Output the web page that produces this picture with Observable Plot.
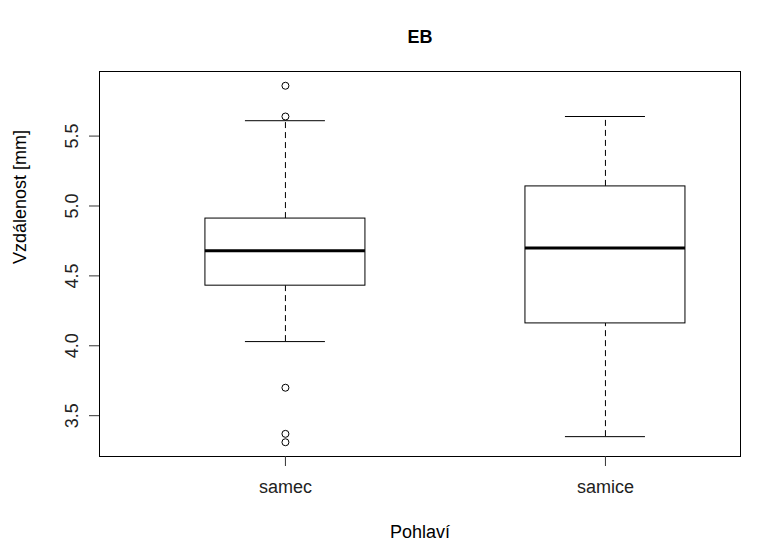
<!DOCTYPE html>
<html>
<head>
<meta charset="utf-8">
<script src="https://cdn.jsdelivr.net/npm/d3@7"></script>
<script src="https://cdn.jsdelivr.net/npm/@observablehq/plot@0.6"></script>
<style>
  html, body { margin: 0; padding: 0; background: #fff; }
  svg { display: block; }
</style>
</head>
<body>
<div id="chart"></div>
<script>
// ---- data ----
const groups = ["samec", "samice"];
const whiskerLow = [4.03, 3.35];
const q1 = [4.43, 4.16];
const median = [4.68, 4.70];
const q3 = [4.91, 5.14];
const whiskerHigh = [5.61, 5.64];
const outlierGroup = ["samec", "samec", "samec", "samec", "samec"];
const outlierValue = [5.86, 5.64, 3.70, 3.37, 3.31];
const yTicks = [3.5, 4.0, 4.5, 5.0, 5.5];
const title = "EB";
const xLabel = "Pohlaví";
const yLabel = "Vzdálenost [mm]";

// ---- build tables ----
const boxes = groups.map((g, i) => ({
  g, pos: i + 1,
  lo: whiskerLow[i], q1: q1[i], med: median[i], q3: q3[i], hi: whiskerHigh[i]
}));
const outliers = outlierValue.map((v, i) => ({ pos: groups.indexOf(outlierGroup[i]) + 1, v }));

const allVals = [...whiskerLow, ...whiskerHigh, ...outlierValue];
const vmin = d3.min(allVals), vmax = d3.max(allVals);
const pad = (vmax - vmin) * 0.04;

const font = "Liberation Sans, Arial, Helvetica, sans-serif";

const chart = Plot.plot({
  width: 782,
  height: 547,
  marginLeft: 99,
  marginRight: 42,
  marginTop: 71,
  marginBottom: 91,
  style: { fontFamily: font, fontSize: "18px", color: "#000", background: "#fff" },
  x: { type: "linear", domain: [0.419, 2.422], axis: null },
  y: { domain: [vmin - pad, vmax + pad], axis: null },
  marks: [
    // whiskers (dashed)
    Plot.ruleX(boxes, { x: "pos", y1: "q3", y2: "hi", stroke: "#000", strokeWidth: 1, strokeDasharray: "6,4" }),
    Plot.ruleX(boxes, { x: "pos", y1: "lo", y2: "q1", stroke: "#000", strokeWidth: 1, strokeDasharray: "6,4" }),
    // whisker caps
    Plot.ruleY(boxes, { y: "hi", x1: d => d.pos - 0.125, x2: d => d.pos + 0.125, stroke: "#000", strokeWidth: 1 }),
    Plot.ruleY(boxes, { y: "lo", x1: d => d.pos - 0.125, x2: d => d.pos + 0.125, stroke: "#000", strokeWidth: 1 }),
    // boxes
    Plot.rect(boxes, { x1: d => d.pos - 0.25, x2: d => d.pos + 0.25, y1: "q1", y2: "q3", fill: "#fff", stroke: "#000", strokeWidth: 1 }),
    // medians
    Plot.ruleY(boxes, { y: "med", x1: d => d.pos - 0.25, x2: d => d.pos + 0.25, stroke: "#000", strokeWidth: 3 }),
    // outliers
    Plot.dot(outliers, { x: "pos", y: "v", r: 3.5, stroke: "#000", fill: "none", strokeWidth: 1 }),
    // frame
    Plot.frame({ stroke: "#000", strokeWidth: 1 }),
    // y axis ticks
    Plot.axisY({ ticks: yTicks, tickSize: 10, tickFormat: () => "", label: null, stroke: "#333", strokeOpacity: 1 }),
    // y axis labels (rotated)
    Plot.axisY({ ticks: yTicks, tickSize: 0, tickPadding: 22, tickRotate: -90, tickFormat: d3.format(".1f"), label: null, fill: "#222", fontSize: 18 }),
    // x axis ticks and labels
    Plot.axisX({ ticks: [1, 2], tickSize: 10, tickPadding: 14, tickFormat: d => groups[d - 1], label: null, stroke: "#333", fill: "#222", fontSize: 18 }),
    // title & axis labels
    Plot.text([title], { frameAnchor: "top", dy: -41, fontWeight: "bold", fontSize: 18, fill: "#000" }),
    Plot.text([xLabel], { frameAnchor: "bottom", dy: 81, fontSize: 18, fill: "#000" }),
    Plot.text([yLabel], { frameAnchor: "left", dx: -79, rotate: -90, fontSize: 18, fill: "#000" })
  ]
});
document.getElementById("chart").appendChild(chart);
</script>
</body>
</html>
